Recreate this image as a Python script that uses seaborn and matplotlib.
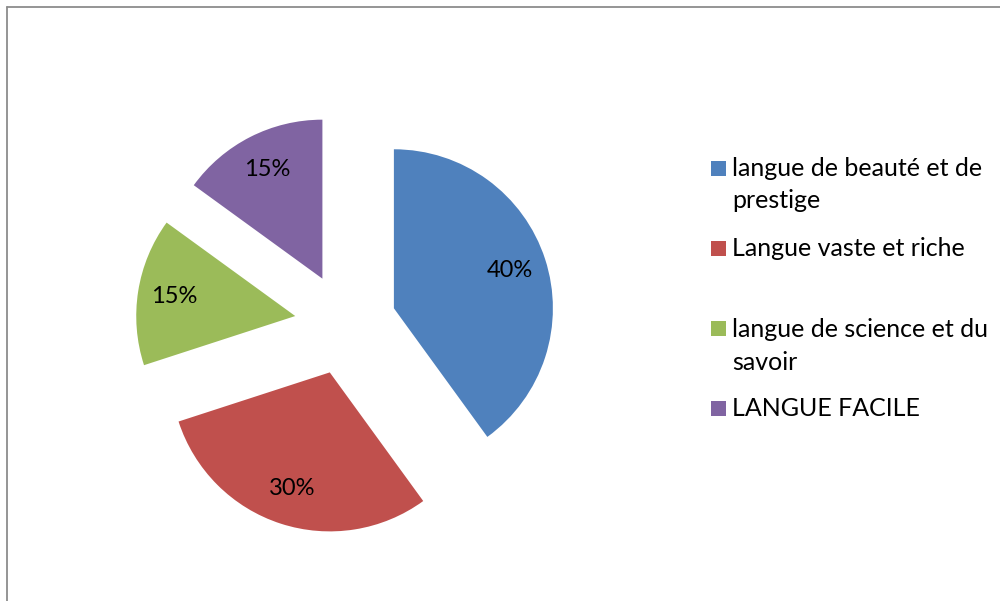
import matplotlib
matplotlib.use("Agg")
import matplotlib.pyplot as plt
from matplotlib.patches import Rectangle
from matplotlib.lines import Line2D
import seaborn as sns

# Survey shares
categories = [
    "langue de beauté et de\nprestige",
    "Langue vaste et riche",
    "langue de science et du\nsavoir",
    "LANGUE FACILE",
]
values = [40, 30, 15, 15]
colors = ["#4F81BD", "#C0504D", "#9BBB59", "#8064A2"]

sns.set_theme(style="white")
plt.rcParams["font.family"] = ["Lato", "DejaVu Sans"]

W, H = 1000, 601
fig = plt.figure(figsize=(W / 100, H / 100), dpi=100)
fig.patch.set_facecolor("white")

# Axes spans the whole canvas; 1 data unit = pie radius
R_PX = 159.0
CX, CY = 345.5, 324.0
ax = fig.add_axes([0, 0, 1, 1])
ax.set_axis_off()

wedges, texts, autotexts = ax.pie(
    values,
    colors=colors,
    startangle=90,
    counterclock=False,
    explode=[0.32] * len(values),
    radius=1.0,
    autopct="%1.0f%%",
    pctdistance=0.77,
    textprops={"fontsize": 17, "color": "black"},
    wedgeprops={"linewidth": 0},
)
ax.set_aspect("auto")
ax.set_xlim(-CX / R_PX, (W - CX) / R_PX)
ax.set_ylim(-(H - CY) / R_PX, CY / R_PX)

# Legend: colour squares with text, first line aligned to the square
legend_rows_y = [168, 248, 329, 408]
sq = 15
line_gap = 32.5
for label, color, yc in zip(categories, colors, legend_rows_y):
    fig.add_artist(Rectangle((711 / W, 1 - (yc + sq / 2) / H), sq / W, sq / H,
                             transform=fig.transFigure, facecolor=color,
                             edgecolor="none"))
    for i, line in enumerate(label.split("\n")):
        base = yc + 8 + i * line_gap
        fig.text(732 / W, 1 - base / H, line, fontsize=18, color="black",
                 ha="left", va="baseline")

# Chart-area frame (top and left edges visible)
frame_kw = dict(color="#8C8C8C", linewidth=1.3, transform=fig.transFigure)
fig.add_artist(Line2D([7 / W, 1.0], [1 - 6.5 / H, 1 - 6.5 / H], **frame_kw))
fig.add_artist(Line2D([7 / W, 7 / W], [1 - 6.5 / H, 0.0], **frame_kw))

fig.savefig("out.png", dpi=100, facecolor="white")
